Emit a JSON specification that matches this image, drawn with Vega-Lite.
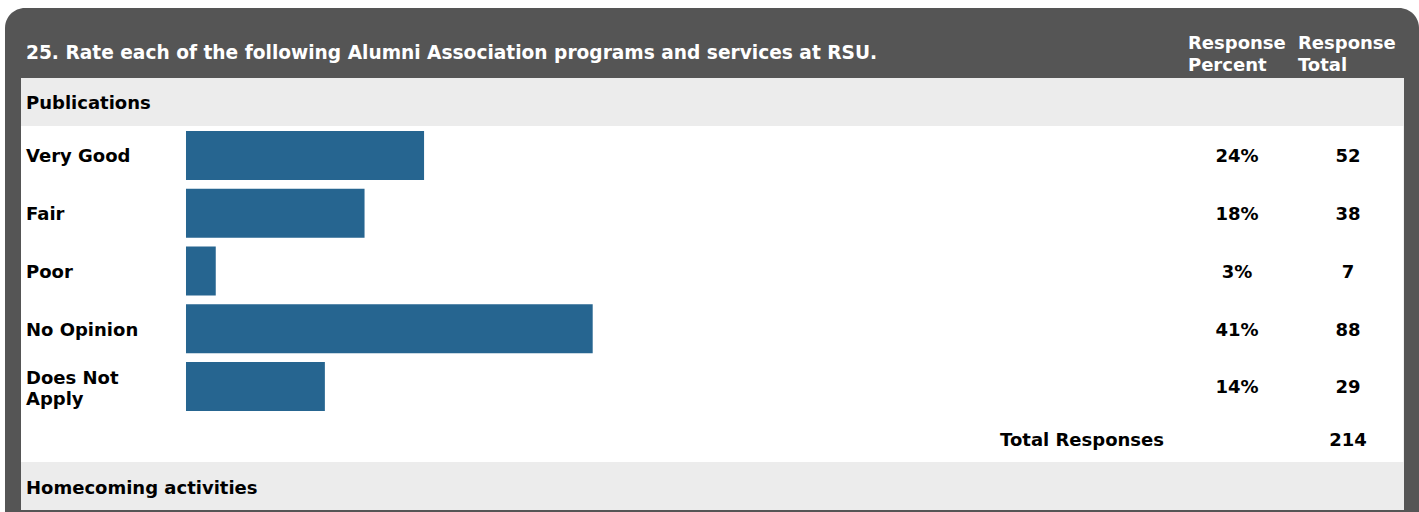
{
  "$schema": "https://vega.github.io/schema/vega-lite/v6.json",
  "width": 1419,
  "height": 512,
  "autosize": {"type": "none"},
  "padding": 0,
  "background": "white",
  "config": {"view": {"stroke": null}, "text": {"font": "DejaVu Sans", "fontWeight": "bold", "fontSize": 18, "dy": 2}},
  "datasets": {
    "answers": [
      {"label": "Very Good", "pct": 24, "total": 52, "row": 1},
      {"label": "Fair", "pct": 18, "total": 38, "row": 2},
      {"label": "Poor", "pct": 3, "total": 7, "row": 3},
      {"label": "No Opinion", "pct": 41, "total": 88, "row": 4},
      {"label": "Does Not\nApply", "pct": 14, "total": 29, "row": 5}
    ],
    "one": [{"question": "25. Rate each of the following Alumni Association programs and services at RSU.", "group": "Publications", "next": "Homecoming activities", "totalResponses": 214}]
  },
  "layer": [
    {
      "data": {"name": "one"},
      "mark": {"type": "rect", "color": "#555555", "cornerRadiusTopLeft": 20, "cornerRadiusTopRight": 20},
      "encoding": {
        "x": {"datum": -18.246, "type": "quantitative", "scale": {"domain": [-18.75, 124.3], "nice": false, "zero": false, "padding": 0}, "axis": null},
        "x2": {"datum": 124.3},
        "y": {"datum": -1.554, "type": "quantitative", "scale": {"domain": [-1.6926, 7.1732], "reverse": true, "nice": false, "zero": false, "padding": 0}, "axis": null},
        "y2": {"datum": 7.1732}
      }
    },
    {
      "data": {"name": "one"},
      "mark": {"type": "rect", "color": "white"},
      "encoding": {
        "x": {"datum": -16.633, "type": "quantitative"},
        "x2": {"datum": 122.78},
        "y": {"datum": -0.342, "type": "quantitative"},
        "y2": {"datum": 7.139}
      }
    },
    {
      "data": {"name": "one"},
      "mark": {"type": "rect", "color": "#ececec"},
      "encoding": {
        "x": {"datum": -16.633, "type": "quantitative"},
        "x2": {"datum": 122.78},
        "y": {"datum": -0.342, "type": "quantitative"},
        "y2": {"datum": 0.489}
      }
    },
    {
      "data": {"name": "one"},
      "mark": {"type": "rect", "color": "#ececec"},
      "encoding": {
        "x": {"datum": -16.633, "type": "quantitative"},
        "x2": {"datum": 122.78},
        "y": {"datum": 6.3074, "type": "quantitative"},
        "y2": {"datum": 7.139}
      }
    },
    {
      "data": {"name": "one"},
      "mark": {"type": "text", "color": "white", "align": "left", "baseline": "middle", "fontSize": 18.6},
      "encoding": {
        "x": {"datum": -16.13, "type": "quantitative"},
        "y": {"datum": -0.809, "type": "quantitative"},
        "text": {"field": "question"}
      }
    },
    {
      "data": {"name": "one"},
      "mark": {"type": "text", "color": "white", "align": "left", "baseline": "middle", "text": ["Response", "Percent"], "lineHeight": 22},
      "encoding": {
        "x": {"datum": 101.01, "type": "quantitative"},
        "y": {"datum": -0.965, "type": "quantitative"}
      }
    },
    {
      "data": {"name": "one"},
      "mark": {"type": "text", "color": "white", "align": "left", "baseline": "middle", "text": ["Response", "Total"], "lineHeight": 22},
      "encoding": {
        "x": {"datum": 112.1, "type": "quantitative"},
        "y": {"datum": -0.965, "type": "quantitative"}
      }
    },
    {
      "data": {"name": "one"},
      "mark": {"type": "text", "color": "black", "align": "left", "baseline": "middle"},
      "encoding": {
        "x": {"datum": -16.13, "type": "quantitative"},
        "y": {"datum": 0.074, "type": "quantitative"},
        "text": {"field": "group"}
      }
    },
    {
      "data": {"name": "one"},
      "mark": {"type": "text", "color": "black", "align": "left", "baseline": "middle"},
      "encoding": {
        "x": {"datum": -16.13, "type": "quantitative"},
        "y": {"datum": 6.74, "type": "quantitative"},
        "text": {"field": "next"}
      }
    },
    {
      "data": {"name": "one"},
      "mark": {"type": "text", "color": "black", "align": "right", "baseline": "middle", "text": "Total Responses"},
      "encoding": {
        "x": {"datum": 98.59, "type": "quantitative"},
        "y": {"datum": 5.909, "type": "quantitative"}
      }
    },
    {
      "data": {"name": "one"},
      "mark": {"type": "text", "color": "black", "align": "center", "baseline": "middle"},
      "encoding": {
        "x": {"datum": 117.14, "type": "quantitative"},
        "y": {"datum": 5.909, "type": "quantitative"},
        "text": {"field": "totalResponses", "type": "quantitative"}
      }
    },
    {
      "data": {"name": "answers"},
      "mark": {"type": "bar", "color": "#266590", "height": 49},
      "encoding": {
        "x": {"field": "pct", "type": "quantitative"},
        "x2": {"datum": 0},
        "y": {"field": "row", "type": "quantitative"}
      }
    },
    {
      "data": {"name": "answers"},
      "transform": [{"filter": "datum.row < 5"}],
      "mark": {"type": "text", "color": "black", "align": "left", "baseline": "middle"},
      "encoding": {
        "x": {"datum": -16.13, "type": "quantitative"},
        "y": {"field": "row", "type": "quantitative"},
        "text": {"field": "label", "type": "nominal"}
      }
    },
    {
      "data": {"name": "answers"},
      "transform": [{"filter": "datum.row === 5"}],
      "mark": {"type": "text", "color": "black", "align": "left", "baseline": "middle", "lineBreak": "\n", "lineHeight": 21, "dy": -7},
      "encoding": {
        "x": {"datum": -16.13, "type": "quantitative"},
        "y": {"field": "row", "type": "quantitative"},
        "text": {"field": "label", "type": "nominal"}
      }
    },
    {
      "data": {"name": "answers"},
      "transform": [{"calculate": "datum.pct + '%'", "as": "pctText"}],
      "mark": {"type": "text", "color": "black", "align": "center", "baseline": "middle"},
      "encoding": {
        "x": {"datum": 105.95, "type": "quantitative"},
        "y": {"field": "row", "type": "quantitative"},
        "text": {"field": "pctText", "type": "nominal"}
      }
    },
    {
      "data": {"name": "answers"},
      "mark": {"type": "text", "color": "black", "align": "center", "baseline": "middle"},
      "encoding": {
        "x": {"datum": 117.14, "type": "quantitative"},
        "y": {"field": "row", "type": "quantitative"},
        "text": {"field": "total", "type": "quantitative"}
      }
    }
  ]
}
